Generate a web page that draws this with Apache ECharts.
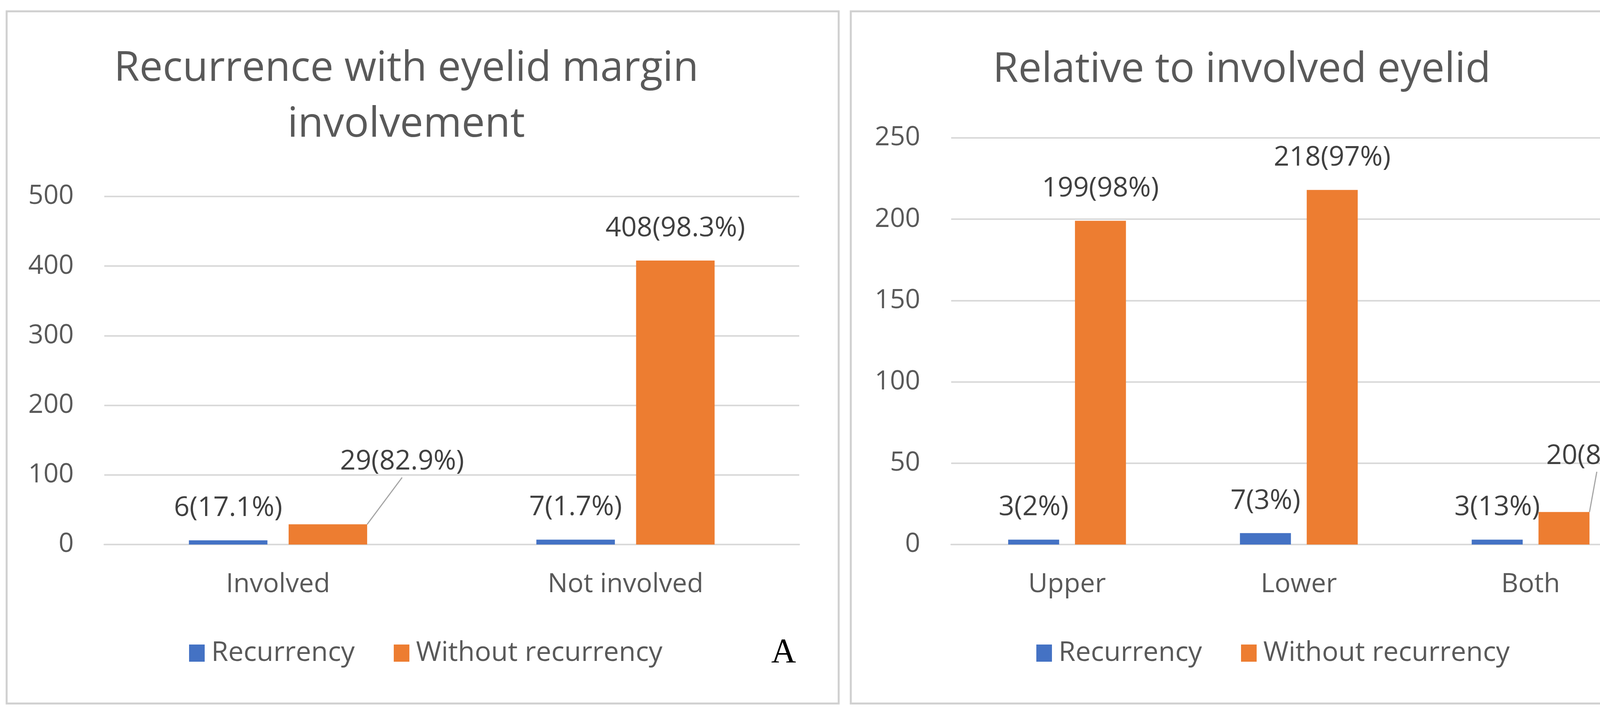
<!DOCTYPE html>
<html>
<head>
<meta charset="utf-8">
<script src="https://cdn.jsdelivr.net/npm/echarts@6/dist/echarts.min.js"></script>
<style>
html,body{margin:0;padding:0;background:#fff;}
#c{width:4331px;height:1833px;}
</style>
</head>
<body>
<div id="c"></div>
<script>
// ---- Data ----
const titleA = 'Recurrence with eyelid margin\ninvolvement';
const titleB = 'Relative to involved eyelid';
const seriesNames = ['Recurrency', 'Without recurrency'];

const catsA = ['Involved', 'Not involved'];
const recA = [6, 7];
const withoutA = [29, 408];
const recPctA = ['17.1%', '1.7%'];
const withoutPctA = ['82.9%', '98.3%'];

const catsB = ['Upper', 'Lower', 'Both'];
const recB = [3, 7, 3];
const withoutB = [199, 218, 20];
const recPctB = ['2%', '3%', '13%'];
const withoutPctB = ['98%', '97%', '87%'];

const yTicksA = { min: 0, max: 500, interval: 100 };
const yTicksB = { min: 0, max: 250, interval: 50 };

// ---- Styles ----
const FONT = '"Open Sans", sans-serif';
const BLUE = '#4472C4';
const ORANGE = '#ED7D31';
const GRID = '#D9D9D9';
const AXISTXT = '#595959';
const LBLTXT = '#404040';
const FS = 68;
const LFS = 70;

// moved labels with leader lines: key "grid-series-index" -> shift
const labelShift = {
  '0-1-0': { dx: 190, dy: -78 },
  '1-1-2': { dx: 84, dy: -61 }
};

function fmt(pcts) {
  return p => p.value + '(' + pcts[p.dataIndex] + ')';
}

function barSeries(name, gi, values, pcts, color, barWidth, barGap, seriesKey) {
  const data = values.map((v, i) =>
    labelShift[seriesKey + '-' + i]
      ? { value: v, labelLine: { show: true, lineStyle: { color: '#A6A6A6', width: 3 } } }
      : v);
  return {
    type: 'bar', name: name,
    xAxisIndex: gi, yAxisIndex: gi,
    data: data,
    barWidth: barWidth, barGap: barGap,
    itemStyle: { color: color },
    label: {
      show: true, position: 'top', distance: 42,
      formatter: fmt(pcts),
      fontFamily: FONT, fontSize: LFS, color: LBLTXT, lineHeight: 80
    },
    labelLine: { show: false },
    labelLayout: function (p) {
      const s = labelShift[seriesKey + '-' + p.dataIndex];
      return s ? { dx: s.dx, dy: s.dy } : {};
    },
    emphasis: { disabled: true }
  };
}

function xAxis(gi, cats) {
  return {
    type: 'category', gridIndex: gi, data: cats,
    axisLine: { show: true, lineStyle: { color: GRID, width: 4 } },
    axisTick: { show: false },
    axisLabel: { fontFamily: FONT, fontSize: FS, color: AXISTXT, margin: 63, lineHeight: 80 }
  };
}

function yAxis(gi, t, margin) {
  return {
    type: 'value', gridIndex: gi, min: t.min, max: t.max, interval: t.interval,
    axisLine: { show: false }, axisTick: { show: false },
    splitLine: { lineStyle: { color: GRID, width: 4 } },
    axisLabel: { fontFamily: FONT, fontSize: FS, color: AXISTXT, margin: margin }
  };
}

function legend(left) {
  return {
    data: seriesNames, left: left, top: 1632, orient: 'horizontal',
    icon: 'rect', itemWidth: 40, itemHeight: 44, itemGap: 100, padding: 0,
    selectedMode: false,
    textStyle: { fontFamily: FONT, fontSize: 70, color: AXISTXT, lineHeight: 80, padding: [0, 0, 0, 12] }
  };
}

const chart = echarts.init(document.getElementById('c'), null, { renderer: 'canvas' });
chart.setOption({
  backgroundColor: '#fff',
  animation: false,
  title: [
    { text: titleA, left: 1040, top: 105, textAlign: 'center', padding: 0,
      textStyle: { fontFamily: FONT, fontSize: 106, fontWeight: 'normal', color: AXISTXT, lineHeight: 143 } },
    { text: titleB, left: 3179, top: 108, textAlign: 'center', padding: 0,
      textStyle: { fontFamily: FONT, fontSize: 106, fontWeight: 'normal', color: AXISTXT, lineHeight: 143 } }
  ],
  legend: [legend(484), legend(2653)],
  grid: [
    { left: 267, right: 2285, top: 503, bottom: 439 },
    { left: 2435, right: 116, top: 353, bottom: 439 }
  ],
  xAxis: [xAxis(0, catsA), xAxis(1, catsB)],
  yAxis: [yAxis(0, yTicksA, 78), yAxis(1, yTicksB, 79)],
  series: [
    barSeries(seriesNames[0], 0, recA, recPctA, BLUE, '22.6%', '27%', '0-0'),
    barSeries(seriesNames[1], 0, withoutA, withoutPctA, ORANGE, '22.6%', '27%', '0-1'),
    barSeries(seriesNames[0], 1, recB, recPctB, BLUE, '22%', '31%', '1-0'),
    barSeries(seriesNames[1], 1, withoutB, withoutPctB, ORANGE, '22%', '31%', '1-1')
  ],
  graphic: [
    { type: 'rect', shape: { x: 17, y: 29, width: 2130, height: 1772 },
      style: { fill: 'none', stroke: '#D0D0D0', lineWidth: 5 }, silent: true, z: -1 },
    { type: 'rect', shape: { x: 2178, y: 29, width: 2135, height: 1772 },
      style: { fill: 'none', stroke: '#D0D0D0', lineWidth: 5 }, silent: true, z: -1 },
    { type: 'text', x: 2006, y: 1672,
      style: { text: 'A', fontFamily: '"Liberation Serif", "Times New Roman", serif', fontSize: 88, fill: '#000', align: 'center', verticalAlign: 'middle' } },
    { type: 'text', x: 4199, y: 1667,
      style: { text: 'B', fontFamily: '"Liberation Serif", "Times New Roman", serif', fontSize: 88, fill: '#000', align: 'center', verticalAlign: 'middle' } }
  ]
});
</script>
</body>
</html>
